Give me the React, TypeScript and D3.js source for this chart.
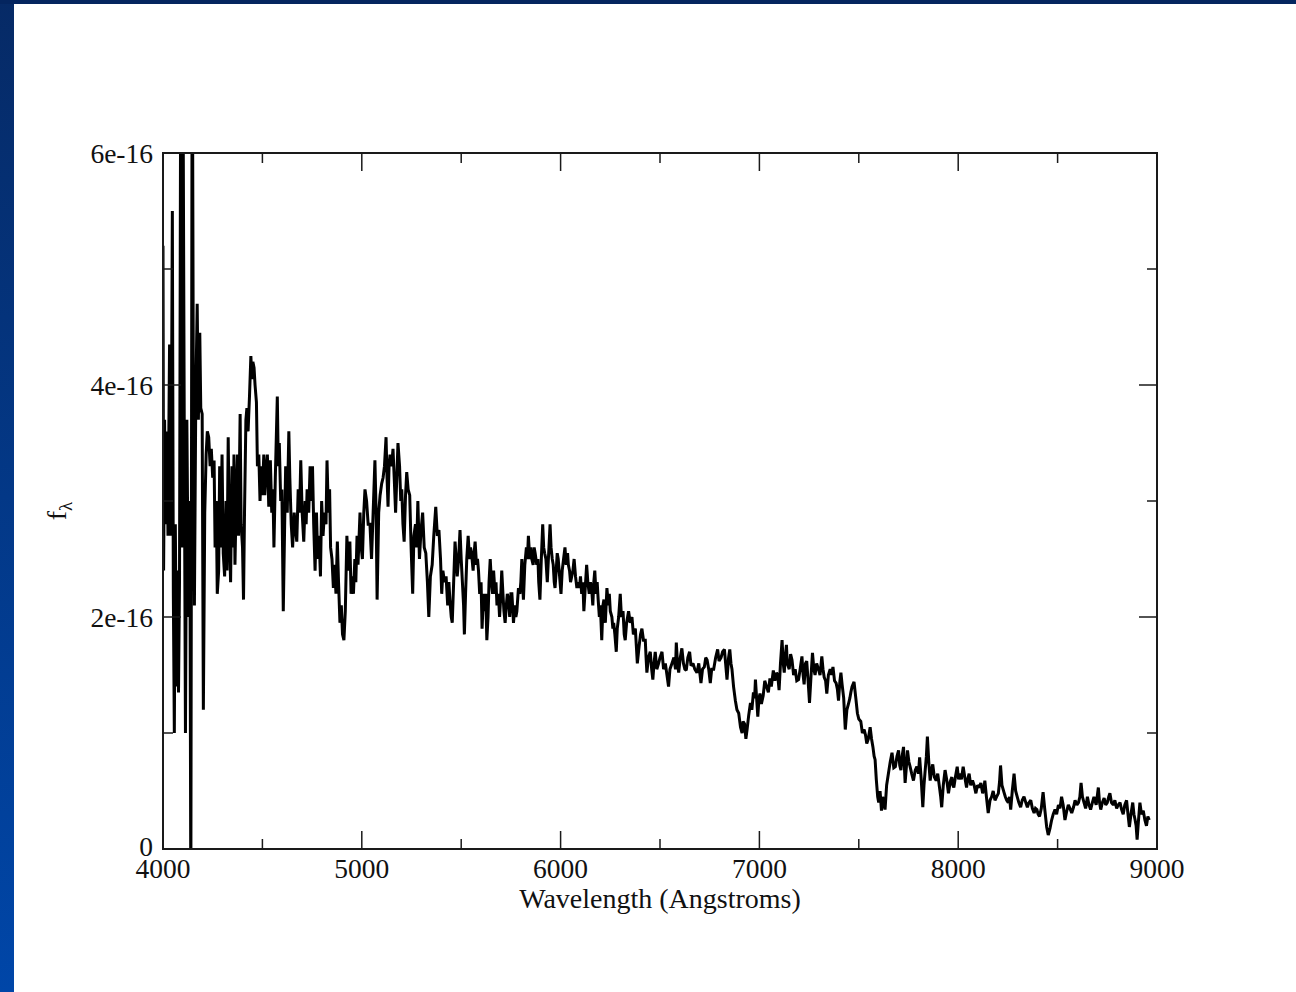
import React from "react";
import * as d3 from "d3";

// ---------- data (flux in units of 1e-16) ----------
const xTickValues = [4000, 5000, 6000, 7000, 8000, 9000];
const xMinorTickValues = [4500, 5500, 6500, 7500, 8500];
const yTickValues = [0, 2, 4, 6];
const yTickLabels = ["0", "2e-16", "4e-16", "6e-16"];
const yMinorTickValues = [1, 3, 5];
const xLabel = "Wavelength (Angstroms)";

const spectrum4000: [number, number][] = [
  [4000, 5.2], [4003, 2.4], [4008, 3.7], [4013, 2.8], [4020, 3.6], [4025, 2.7], [4033, 4.35], [4040, 2.7],
  [4047, 5.5], [4052, 2.2], [4057, 1.0], [4062, 2.8], [4068, 1.4], [4073, 2.4], [4078, 1.35], [4083, 2.3],
  [4090, 7.5], [4095, 2.6], [4100, 7.0], [4107, 3.6], [4113, 1.0], [4120, 3.7], [4128, 2.0], [4135, 3.0],
  [4140, -0.5], [4147, 7.5], [4153, 3.7], [4158, 2.1], [4165, 3.9], [4172, 4.7], [4178, 3.7], [4185, 4.45],
  [4190, 3.8], [4197, 3.75], [4203, 1.2], [4210, 2.9], [4217, 3.4], [4223, 3.6], [4230, 3.55], [4237, 3.3],
  [4243, 3.45], [4250, 3.2], [4257, 3.35], [4262, 2.6], [4268, 3.0], [4273, 2.2], [4280, 2.4], [4285, 3.3],
  [4290, 2.6], [4297, 3.4], [4303, 2.55], [4310, 2.35], [4317, 3.0], [4322, 2.4], [4328, 3.55], [4333, 2.8],
  [4340, 2.3], [4347, 3.3], [4352, 2.6], [4357, 3.4], [4362, 2.45], [4368, 3.0], [4375, 3.4], [4380, 2.7],
  [4388, 3.75], [4393, 2.8], [4400, 2.6], [4405, 2.15], [4410, 2.9], [4417, 3.7], [4422, 3.8], [4428, 3.6],
  [4435, 3.9], [4442, 4.25], [4447, 4.05], [4452, 4.2], [4458, 4.15], [4463, 4.0], [4470, 3.85], [4475, 3.3],
  [4482, 3.4], [4488, 3.0], [4495, 3.3], [4500, 3.05], [4507, 3.4], [4512, 3.05], [4518, 3.25], [4525, 3.4],
  [4532, 2.95], [4540, 3.35], [4547, 2.9], [4553, 3.1], [4558, 2.6], [4565, 3.2], [4575, 3.9], [4580, 3.3],
  [4585, 3.5], [4592, 3.0], [4598, 3.1], [4605, 2.05], [4612, 2.8], [4617, 3.3], [4625, 2.9], [4633, 3.6],
  [4638, 3.2], [4645, 2.8], [4652, 2.6], [4660, 2.9], [4667, 2.75], [4673, 2.65], [4680, 3.1], [4687, 2.9],
  [4693, 3.35], [4700, 2.9], [4708, 2.65], [4715, 3.0], [4720, 2.8], [4725, 3.1], [4733, 2.9], [4740, 3.3],
  [4747, 3.0], [4752, 3.3], [4758, 2.8], [4765, 2.4], [4772, 2.9], [4778, 2.5], [4785, 2.7], [4792, 2.35],
  [4798, 3.0], [4805, 2.7], [4812, 2.9], [4820, 2.8], [4825, 3.35], [4832, 2.9], [4838, 3.1], [4843, 2.6],
  [4850, 2.5], [4857, 2.25], [4863, 2.45], [4870, 2.2], [4877, 2.65], [4883, 2.3], [4890, 1.95], [4897, 2.1],
  [4903, 1.85], [4910, 1.8], [4917, 2.05], [4925, 2.7], [4932, 2.4], [4940, 2.65], [4946, 2.2], [4952, 2.35],
  [4958, 2.2], [4965, 2.5], [4970, 2.3], [4976, 2.7], [4981, 2.45], [4991, 2.9], [4997, 2.6],
];

const spectrum5000: [number, number][] = [
  [5003, 2.5], [5010, 2.9], [5016, 3.1], [5024, 3.0], [5032, 2.8], [5041, 2.8], [5049, 2.5], [5057, 2.9],
  [5066, 3.35], [5072, 2.9], [5077, 2.15], [5085, 2.9], [5092, 3.05], [5100, 3.15], [5107, 3.2], [5114, 3.3],
  [5122, 3.55], [5127, 3.2], [5132, 2.95], [5137, 3.3], [5142, 3.4], [5150, 3.3], [5157, 3.45], [5163, 3.2],
  [5170, 2.9], [5176, 3.2], [5182, 3.5], [5190, 3.3], [5196, 3.0], [5201, 3.1], [5207, 2.8], [5213, 2.65],
  [5220, 3.05], [5226, 3.25], [5233, 3.1], [5241, 3.05], [5248, 2.6], [5256, 2.2], [5262, 2.7], [5270, 2.8],
  [5276, 2.6], [5282, 3.0], [5290, 2.5], [5298, 2.75], [5306, 2.9], [5314, 2.6], [5322, 2.55], [5330, 2.3],
  [5337, 2.0], [5345, 2.35], [5354, 2.45], [5362, 2.7], [5372, 2.95], [5380, 2.7], [5388, 2.75], [5396, 2.5],
  [5402, 2.2], [5408, 2.4], [5416, 2.3], [5424, 2.35], [5432, 2.1], [5438, 2.3], [5443, 2.15], [5450, 2.0],
  [5455, 1.95], [5462, 2.3], [5469, 2.65], [5475, 2.5], [5480, 2.35], [5487, 2.5], [5494, 2.75], [5500, 2.5],
  [5506, 2.3], [5512, 2.1], [5516, 1.85], [5522, 2.2], [5528, 2.5], [5535, 2.7], [5542, 2.5], [5547, 2.6],
  [5552, 2.55], [5560, 2.4], [5565, 2.55], [5570, 2.65], [5577, 2.45], [5582, 2.5], [5587, 2.4], [5593, 2.2],
  [5600, 2.3], [5605, 1.9], [5612, 2.2], [5618, 2.05], [5623, 2.2], [5629, 1.8], [5635, 2.0], [5640, 2.3],
  [5646, 2.5], [5652, 2.3], [5658, 2.2], [5663, 2.4], [5670, 2.2], [5675, 2.3], [5680, 2.1], [5687, 2.2],
  [5693, 2.0], [5698, 2.15], [5704, 2.4], [5710, 2.2], [5715, 2.05], [5721, 1.95], [5727, 2.1], [5732, 2.2],
  [5738, 2.15], [5744, 2.0], [5750, 2.2], [5755, 2.2], [5760, 2.05], [5763, 1.95], [5770, 2.1], [5775, 2.0],
  [5780, 2.05], [5788, 2.25], [5795, 2.2], [5800, 2.3], [5805, 2.5], [5810, 2.25], [5813, 2.15], [5820, 2.45],
  [5828, 2.6], [5833, 2.5], [5838, 2.7], [5845, 2.5], [5850, 2.6], [5855, 2.5], [5862, 2.45], [5867, 2.6],
  [5872, 2.55], [5880, 2.45], [5886, 2.5], [5890, 2.3], [5896, 2.15], [5903, 2.5], [5910, 2.8], [5915, 2.6],
  [5920, 2.55], [5926, 2.5], [5933, 2.3], [5940, 2.55], [5947, 2.8], [5952, 2.6], [5958, 2.5], [5963, 2.45],
  [5968, 2.3], [5972, 2.25], [5978, 2.4], [5983, 2.55], [5988, 2.5], [5995, 2.35],
];

const spectrum6000: [number, number][] = [
  [6002, 2.2], [6008, 2.4], [6015, 2.5], [6022, 2.6], [6028, 2.45], [6035, 2.55], [6039, 2.45], [6045, 2.4],
  [6050, 2.3], [6056, 2.35], [6062, 2.4], [6068, 2.5], [6075, 2.35], [6082, 2.25], [6089, 2.3], [6095, 2.25],
  [6100, 2.35], [6106, 2.2], [6112, 2.3], [6117, 2.05], [6124, 2.25], [6131, 2.45], [6137, 2.3], [6144, 2.2],
  [6150, 2.3], [6156, 2.25], [6162, 2.1], [6167, 2.3], [6172, 2.4], [6178, 2.2], [6184, 2.3], [6189, 2.15],
  [6195, 2.0], [6200, 2.1], [6207, 1.8], [6213, 2.1], [6218, 2.15], [6225, 1.95], [6233, 2.25], [6240, 2.1],
  [6245, 2.2], [6250, 2.05], [6258, 2.0], [6263, 1.9], [6267, 1.95], [6273, 1.85], [6280, 1.7], [6285, 1.9],
  [6292, 2.0], [6300, 2.2], [6306, 2.0], [6314, 2.05], [6320, 1.85], [6325, 1.8], [6332, 1.95], [6342, 2.05],
  [6350, 1.95], [6359, 2.0], [6366, 1.85], [6376, 1.9], [6381, 1.75], [6386, 1.6], [6395, 1.75], [6402, 1.85],
  [6409, 1.9], [6417, 1.8], [6426, 1.8], [6430, 1.65], [6434, 1.52], [6442, 1.65], [6451, 1.7], [6458, 1.55],
  [6464, 1.46], [6470, 1.6], [6476, 1.7], [6484, 1.55], [6493, 1.6], [6500, 1.65], [6510, 1.7], [6518, 1.55],
  [6527, 1.6], [6535, 1.5], [6543, 1.4], [6550, 1.55], [6560, 1.6], [6570, 1.65], [6578, 1.55], [6582, 1.78],
  [6588, 1.6], [6594, 1.52], [6602, 1.65], [6610, 1.73], [6618, 1.6], [6625, 1.55], [6632, 1.54], [6640, 1.65],
  [6649, 1.7], [6656, 1.58], [6666, 1.6], [6675, 1.55], [6686, 1.52], [6695, 1.6], [6706, 1.43], [6714, 1.55],
  [6723, 1.57], [6730, 1.65], [6737, 1.63], [6745, 1.55], [6753, 1.43], [6760, 1.55], [6770, 1.55], [6780, 1.65],
  [6790, 1.72], [6797, 1.62], [6807, 1.65], [6815, 1.7], [6824, 1.72], [6830, 1.6], [6837, 1.46], [6845, 1.65],
  [6851, 1.72], [6857, 1.6], [6862, 1.55], [6870, 1.4], [6879, 1.28], [6887, 1.2], [6896, 1.17], [6905, 1.05],
  [6913, 1.0], [6918, 1.1], [6925, 1.08], [6932, 0.95], [6938, 1.03], [6946, 1.15], [6955, 1.26], [6962, 1.2],
  [6970, 1.35], [6976, 1.3], [6980, 1.46], [6986, 1.3], [6992, 1.14], [6998, 1.3],
];

const spectrum7000: [number, number][] = [
  [7003, 1.34], [7010, 1.25], [7019, 1.32], [7027, 1.45], [7036, 1.4], [7045, 1.35], [7053, 1.47], [7060, 1.4],
  [7070, 1.54], [7078, 1.45], [7086, 1.52], [7092, 1.5], [7099, 1.37], [7106, 1.6], [7114, 1.8], [7120, 1.6],
  [7125, 1.52], [7130, 1.65], [7136, 1.76], [7140, 1.6], [7144, 1.58], [7150, 1.55], [7157, 1.68], [7164, 1.63],
  [7172, 1.5], [7180, 1.55], [7188, 1.45], [7197, 1.46], [7205, 1.55], [7214, 1.66], [7220, 1.5], [7225, 1.42],
  [7232, 1.6], [7238, 1.62], [7245, 1.45], [7252, 1.26], [7260, 1.5], [7267, 1.69], [7274, 1.55], [7280, 1.5],
  [7288, 1.6], [7297, 1.55], [7305, 1.5], [7314, 1.66], [7320, 1.55], [7326, 1.48], [7333, 1.45], [7339, 1.34],
  [7347, 1.5], [7356, 1.55], [7363, 1.5], [7370, 1.57], [7378, 1.45], [7386, 1.43], [7392, 1.38], [7398, 1.28],
  [7405, 1.45], [7410, 1.52], [7416, 1.42], [7424, 1.3], [7432, 1.03], [7440, 1.2], [7448, 1.25], [7455, 1.3],
  [7460, 1.35], [7466, 1.4], [7476, 1.44], [7485, 1.3], [7493, 1.17], [7500, 1.12], [7510, 1.1], [7518, 1.0],
  [7527, 1.03], [7534, 0.98], [7540, 0.91], [7548, 0.95], [7557, 1.05], [7564, 0.95], [7571, 0.88], [7577, 0.8],
  [7582, 0.77], [7588, 0.6], [7595, 0.45], [7600, 0.4], [7607, 0.5], [7614, 0.33], [7620, 0.45], [7626, 0.4],
  [7632, 0.34], [7640, 0.55], [7649, 0.65], [7658, 0.75], [7667, 0.83], [7676, 0.7], [7684, 0.71], [7692, 0.8],
  [7700, 0.85], [7706, 0.72], [7712, 0.68], [7718, 0.8], [7725, 0.88], [7733, 0.57], [7739, 0.7], [7745, 0.85],
  [7752, 0.75], [7758, 0.71], [7766, 0.65], [7775, 0.59], [7784, 0.68], [7792, 0.71], [7800, 0.65], [7806, 0.79],
  [7814, 0.6], [7822, 0.36], [7828, 0.55], [7834, 0.68], [7840, 0.8], [7845, 0.97], [7852, 0.75], [7859, 0.59],
  [7866, 0.68], [7872, 0.73], [7880, 0.62], [7889, 0.59], [7897, 0.65], [7906, 0.53], [7912, 0.45], [7917, 0.36],
  [7925, 0.55], [7934, 0.68], [7942, 0.6], [7951, 0.48], [7960, 0.58], [7968, 0.62], [7973, 0.55], [7978, 0.53],
  [7986, 0.62], [7995, 0.71],
];

const spectrum8000: [number, number][] = [
  [8002, 0.6], [8008, 0.65], [8016, 0.6], [8025, 0.71], [8033, 0.62], [8042, 0.53], [8048, 0.6], [8055, 0.65],
  [8063, 0.55], [8072, 0.59], [8080, 0.55], [8089, 0.48], [8097, 0.55], [8106, 0.53], [8114, 0.57], [8123, 0.48],
  [8129, 0.52], [8134, 0.59], [8142, 0.45], [8151, 0.31], [8160, 0.42], [8168, 0.45], [8176, 0.5], [8185, 0.42],
  [8193, 0.45], [8202, 0.48], [8208, 0.58], [8213, 0.72], [8220, 0.55], [8230, 0.49], [8237, 0.45], [8244, 0.42],
  [8252, 0.4], [8258, 0.45], [8264, 0.34], [8272, 0.5], [8281, 0.65], [8289, 0.5], [8297, 0.45], [8305, 0.4],
  [8314, 0.36], [8322, 0.42], [8331, 0.45], [8340, 0.4], [8348, 0.36], [8356, 0.4], [8365, 0.42], [8373, 0.35],
  [8382, 0.31], [8389, 0.35], [8396, 0.34], [8402, 0.3], [8409, 0.28], [8418, 0.35], [8427, 0.49], [8435, 0.35],
  [8445, 0.19], [8453, 0.12], [8462, 0.18], [8470, 0.25], [8478, 0.3], [8487, 0.34], [8495, 0.3], [8504, 0.38],
  [8512, 0.35], [8520, 0.45], [8528, 0.38], [8537, 0.25], [8545, 0.32], [8554, 0.38], [8562, 0.35], [8571, 0.31],
  [8580, 0.36], [8588, 0.42], [8597, 0.38], [8605, 0.4], [8612, 0.45], [8618, 0.57], [8625, 0.45], [8633, 0.4],
  [8641, 0.35], [8650, 0.45], [8658, 0.38], [8666, 0.34], [8675, 0.4], [8683, 0.45], [8694, 0.38], [8705, 0.53],
  [8711, 0.4], [8717, 0.34], [8725, 0.4], [8734, 0.44], [8742, 0.38], [8750, 0.4], [8757, 0.45], [8763, 0.48],
  [8771, 0.4], [8780, 0.38], [8788, 0.42], [8797, 0.35], [8805, 0.38], [8814, 0.4], [8822, 0.34], [8830, 0.3],
  [8838, 0.38], [8847, 0.42], [8854, 0.3], [8861, 0.19], [8869, 0.3], [8878, 0.4], [8884, 0.3], [8890, 0.25],
  [8895, 0.2], [8900, 0.08], [8907, 0.25], [8914, 0.4], [8922, 0.3], [8931, 0.33], [8939, 0.25], [8947, 0.2],
  [8954, 0.28], [8961, 0.25],
];

const spectrum = [...spectrum4000, ...spectrum5000, ...spectrum6000, ...spectrum7000, ...spectrum8000];

// ---------- layout ----------
const W = 1296;
const H = 992;
const plot = { left: 163, top: 153, right: 1157, bottom: 849 };
const FONT = "'Liberation Serif', 'Times New Roman', serif";

export default function App() {
  const x = d3.scaleLinear().domain([4000, 9000]).range([plot.left, plot.right]);
  const y = d3.scaleLinear().domain([0, 6]).range([plot.bottom, plot.top]);
  const line = d3
    .line<[number, number]>()
    .x((d) => x(d[0]))
    .y((d) => y(d[1]));

  const major = 18;
  const minor = 10;
  const axisColor = "#1a1a1a";

  return (
    <svg
      width={W}
      height={H}
      viewBox={`0 0 ${W} ${H}`}
      style={{ position: "absolute", left: 0, top: 0, display: "block" }}
    >
      <defs>
        <linearGradient id="sideGrad" x1="0" y1="0" x2="0" y2="1">
          <stop offset="0" stopColor="#062a66" />
          <stop offset="1" stopColor="#0046a8" />
        </linearGradient>
        <clipPath id="plotClip">
          <rect x={plot.left} y={plot.top} width={plot.right - plot.left} height={plot.bottom - plot.top} />
        </clipPath>
      </defs>
      <rect x={0} y={0} width={W} height={H} fill="#ffffff" />
      <rect x={0} y={0} width={14} height={H} fill="url(#sideGrad)" />
      <rect x={0} y={0} width={W} height={4} fill="#04255f" />

      {/* spectrum */}
      <path
        d={line(spectrum) || ""}
        fill="none"
        stroke="#000"
        strokeWidth={3}
        strokeLinejoin="miter"
        strokeMiterlimit={2}
        clipPath="url(#plotClip)"
      />

      {/* frame */}
      <rect
        x={plot.left}
        y={plot.top}
        width={plot.right - plot.left}
        height={plot.bottom - plot.top}
        fill="none"
        stroke={axisColor}
        strokeWidth={2}
      />

      {/* x ticks */}
      {xTickValues.map((v) => (
        <g key={"xt" + v}>
          <line x1={x(v)} x2={x(v)} y1={plot.bottom} y2={plot.bottom - major} stroke={axisColor} strokeWidth={1.5} />
          <line x1={x(v)} x2={x(v)} y1={plot.top} y2={plot.top + major} stroke={axisColor} strokeWidth={1.5} />
          <text
            x={x(v)}
            y={plot.bottom + 29}
            textAnchor="middle"
            fontFamily={FONT}
            fontSize={27.5}
            fill="#111"
          >
            {v}
          </text>
        </g>
      ))}
      {xMinorTickValues.map((v) => (
        <g key={"xm" + v}>
          <line x1={x(v)} x2={x(v)} y1={plot.bottom} y2={plot.bottom - minor} stroke={axisColor} strokeWidth={1.5} />
          <line x1={x(v)} x2={x(v)} y1={plot.top} y2={plot.top + minor} stroke={axisColor} strokeWidth={1.5} />
        </g>
      ))}

      {/* y ticks */}
      {yTickValues.map((v, i) => (
        <g key={"yt" + v}>
          <line x1={plot.left} x2={plot.left + major} y1={y(v)} y2={y(v)} stroke={axisColor} strokeWidth={1.5} />
          <line x1={plot.right} x2={plot.right - major} y1={y(v)} y2={y(v)} stroke={axisColor} strokeWidth={1.5} />
          <text
            x={plot.left - 10}
            y={y(v) + (v === 0 ? 7 : 10)}
            textAnchor="end"
            fontFamily={FONT}
            fontSize={27.5}
            fill="#111"
          >
            {yTickLabels[i]}
          </text>
        </g>
      ))}
      {yMinorTickValues.map((v) => (
        <g key={"ym" + v}>
          <line x1={plot.left} x2={plot.left + minor} y1={y(v)} y2={y(v)} stroke={axisColor} strokeWidth={1.5} />
          <line x1={plot.right} x2={plot.right - minor} y1={y(v)} y2={y(v)} stroke={axisColor} strokeWidth={1.5} />
        </g>
      ))}

      {/* axis labels */}
      <text
        x={(plot.left + plot.right) / 2}
        y={plot.bottom + 59}
        textAnchor="middle"
        fontFamily={FONT}
        fontSize={28}
        fill="#111"
      >
        {xLabel}
      </text>
      <text
        transform={`translate(66, ${(plot.top + plot.bottom) / 2 + 10}) rotate(-90)`}
        textAnchor="middle"
        fontFamily={FONT}
        fontSize={28}
        fill="#111"
      >
        f
        <tspan fontSize={19} dy={6}>
          λ
        </tspan>
      </text>
    </svg>
  );
}
